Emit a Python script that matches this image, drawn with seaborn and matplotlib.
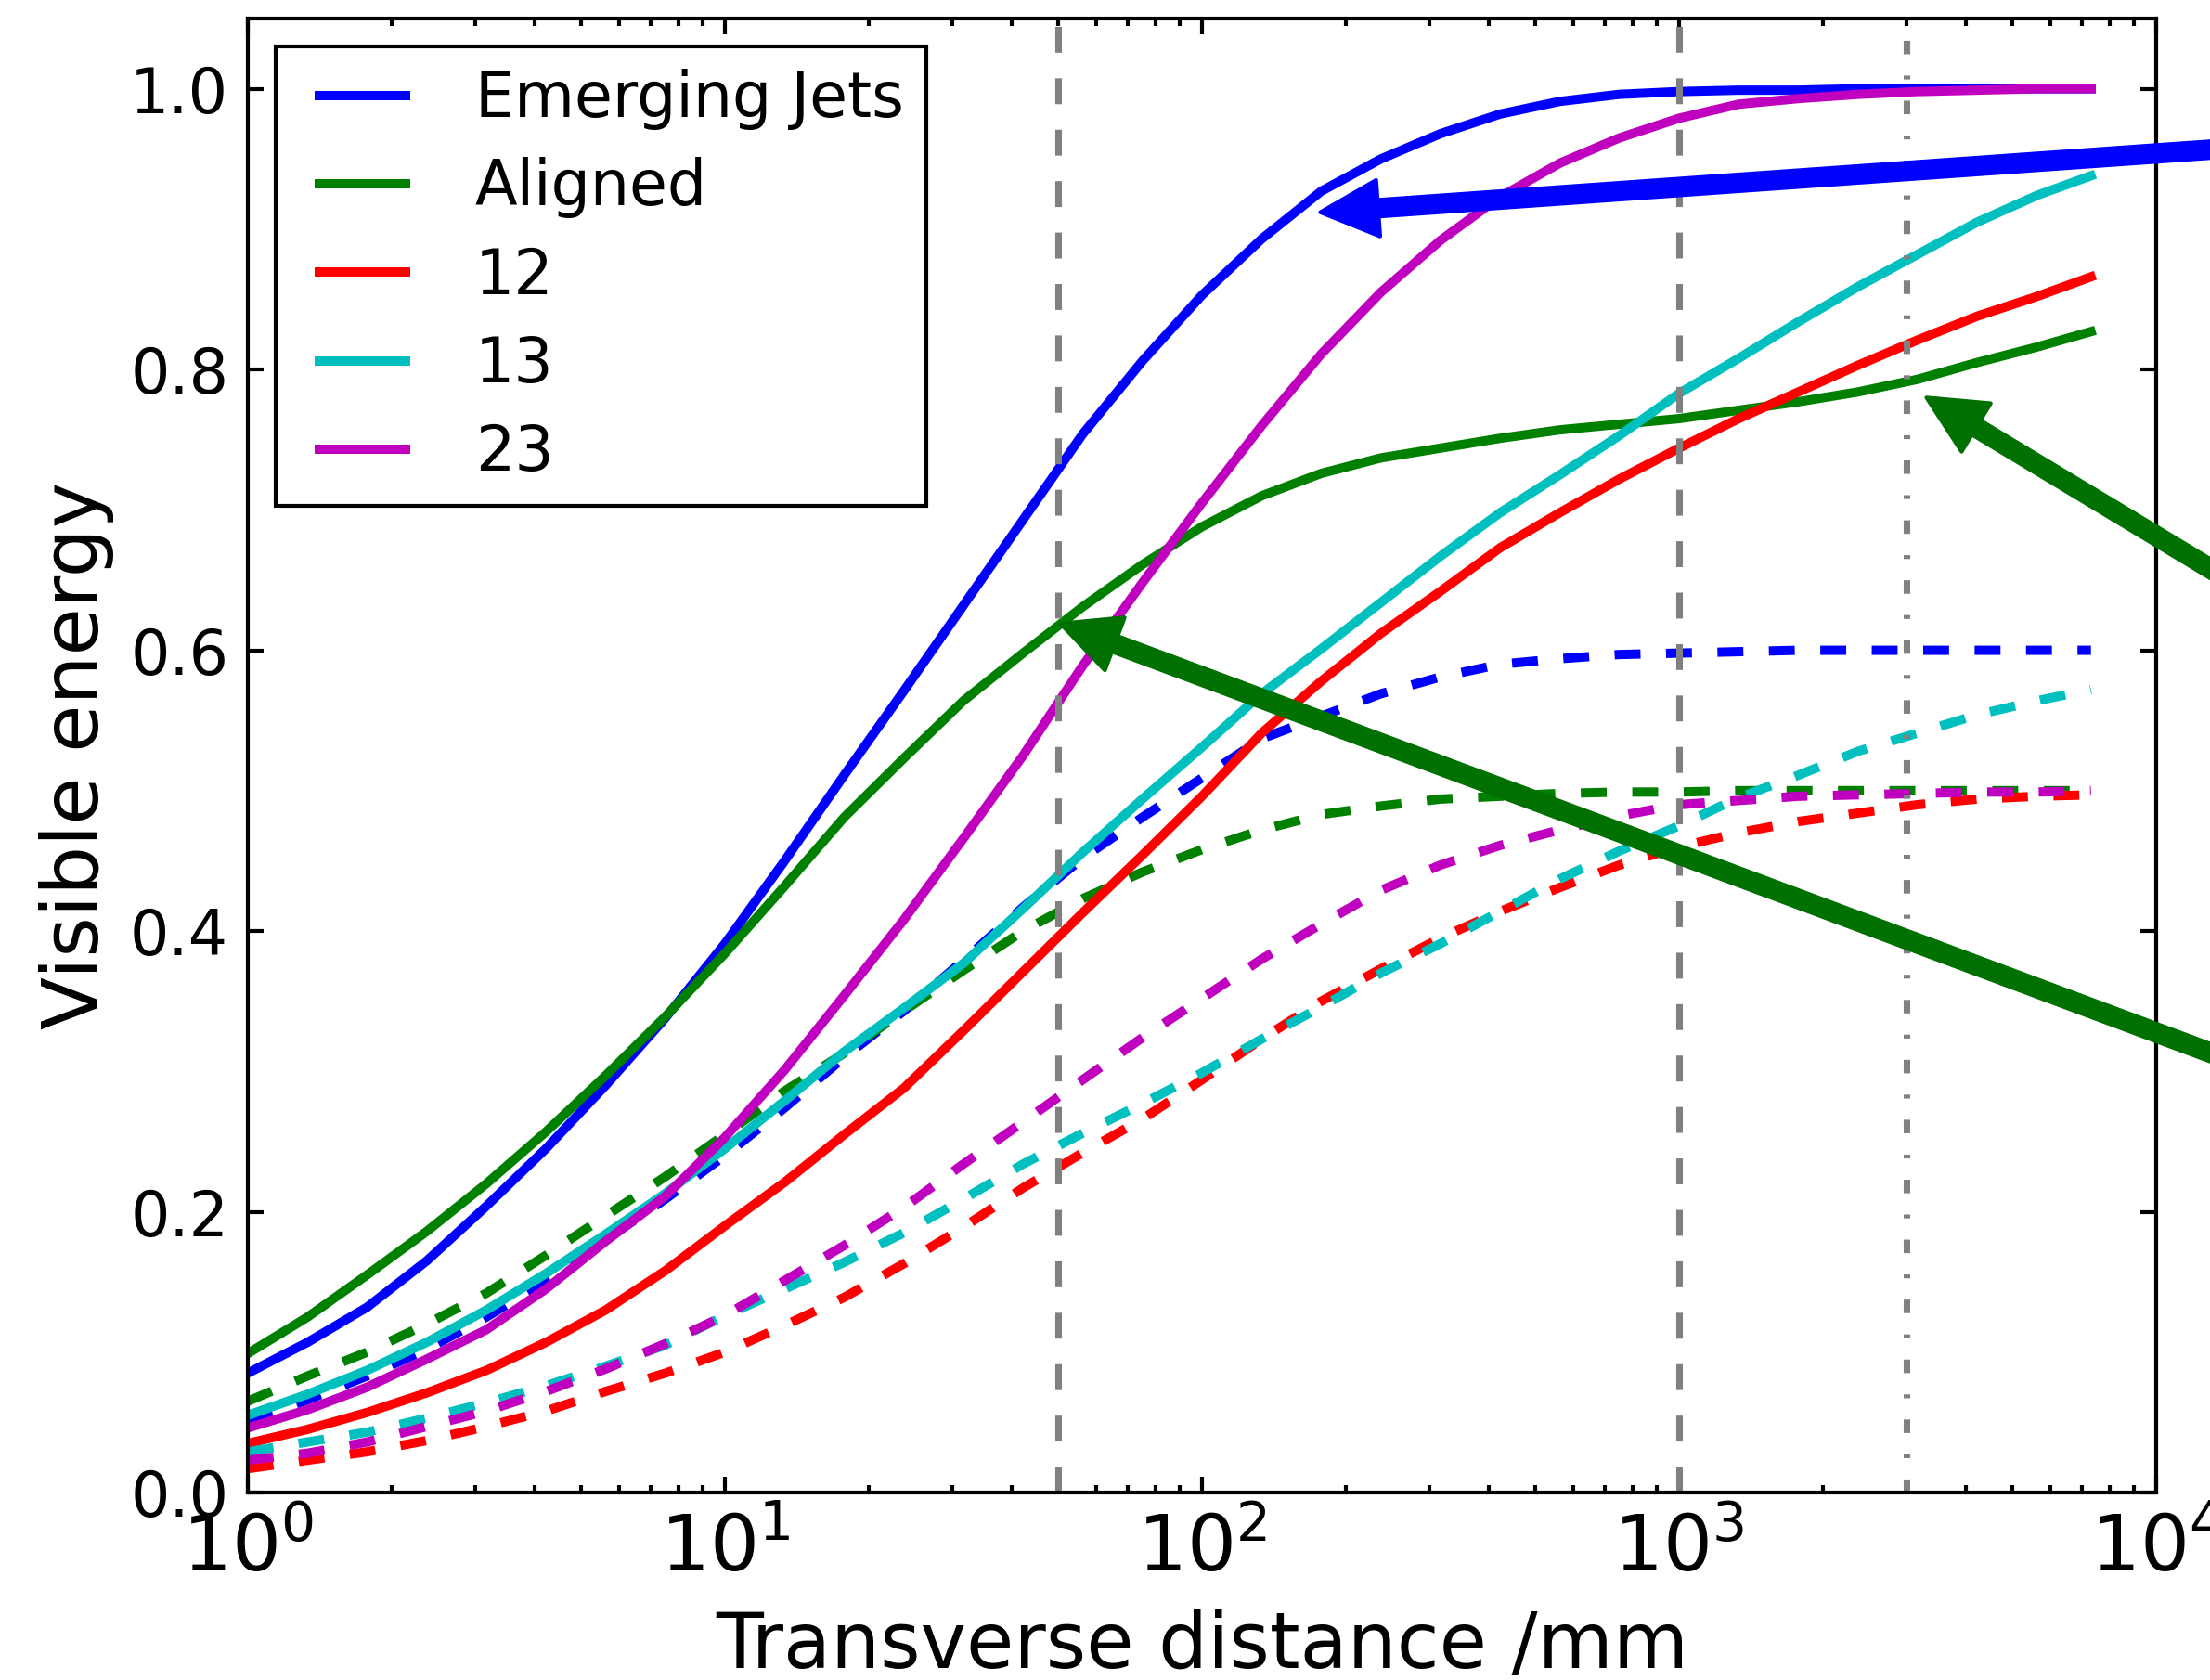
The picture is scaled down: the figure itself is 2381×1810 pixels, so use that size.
import numpy as np
import pandas as pd
import matplotlib
matplotlib.use("Agg")
import matplotlib.pyplot as plt
import seaborn as sns
from matplotlib.legend_handler import HandlerLine2D
from matplotlib.lines import Line2D

# transverse distance in mm (log spaced samples, 8 per decade)
dist = [1, 1.334, 1.778, 2.371, 3.162, 4.217, 5.623, 7.499,
        10, 13.34, 17.78, 23.71, 31.62, 42.17, 56.23, 74.99,
        100, 133.4, 177.8, 237.1, 316.2, 421.7, 562.3, 749.9,
        1000, 1334, 1778, 2371, 3162, 4217, 5623, 7300]

# solid curves
emerging = [0.085, 0.107, 0.132, 0.165, 0.204, 0.245, 0.290, 0.338,
            0.391, 0.450, 0.511, 0.571, 0.632, 0.693, 0.754, 0.806,
            0.853, 0.893, 0.927, 0.950, 0.968, 0.982, 0.991, 0.996,
            0.998, 0.999, 0.999, 1.000, 1.000, 1.000, 1.000, 1.000]
aligned = [0.099, 0.125, 0.155, 0.186, 0.220, 0.257, 0.297, 0.339,
           0.384, 0.432, 0.481, 0.523, 0.564, 0.598, 0.631, 0.661,
           0.688, 0.710, 0.726, 0.737, 0.744, 0.751, 0.757, 0.761,
           0.765, 0.771, 0.777, 0.784, 0.793, 0.805, 0.816, 0.827]
s12 = [0.035, 0.045, 0.057, 0.071, 0.087, 0.107, 0.130, 0.158,
       0.190, 0.221, 0.255, 0.288, 0.329, 0.371, 0.413, 0.454,
       0.496, 0.541, 0.578, 0.612, 0.642, 0.673, 0.698, 0.722,
       0.744, 0.765, 0.784, 0.803, 0.821, 0.838, 0.852, 0.866]
s13 = [0.055, 0.070, 0.087, 0.107, 0.130, 0.156, 0.184, 0.213,
       0.245, 0.279, 0.314, 0.345, 0.377, 0.416, 0.456, 0.494,
       0.531, 0.569, 0.601, 0.634, 0.667, 0.698, 0.725, 0.753,
       0.783, 0.808, 0.834, 0.859, 0.882, 0.905, 0.924, 0.938]
s23 = [0.046, 0.059, 0.075, 0.095, 0.116, 0.145, 0.179, 0.211,
       0.253, 0.301, 0.354, 0.408, 0.466, 0.525, 0.589, 0.648,
       0.705, 0.760, 0.811, 0.855, 0.892, 0.923, 0.947, 0.965,
       0.979, 0.989, 0.993, 0.996, 0.998, 0.999, 1.000, 1.000]

# dashed curves
emerging_d = [0.051, 0.066, 0.083, 0.102, 0.125, 0.151, 0.180, 0.209,
              0.240, 0.274, 0.310, 0.343, 0.379, 0.417, 0.452, 0.481,
              0.509, 0.537, 0.553, 0.569, 0.581, 0.590, 0.594, 0.597,
              0.598, 0.599, 0.600, 0.600, 0.600, 0.600, 0.600, 0.600]
aligned_d = [0.065, 0.083, 0.100, 0.120, 0.142, 0.169, 0.197, 0.225,
             0.255, 0.286, 0.313, 0.343, 0.372, 0.400, 0.423, 0.442,
             0.458, 0.472, 0.483, 0.489, 0.494, 0.496, 0.498, 0.499,
             0.499, 0.500, 0.500, 0.500, 0.500, 0.500, 0.500, 0.500]
s12_d = [0.017, 0.023, 0.029, 0.037, 0.047, 0.058, 0.072, 0.085,
         0.100, 0.119, 0.139, 0.163, 0.189, 0.217, 0.242, 0.266,
         0.294, 0.323, 0.350, 0.373, 0.395, 0.414, 0.431, 0.447,
         0.460, 0.470, 0.478, 0.484, 0.490, 0.494, 0.496, 0.497]
s13_d = [0.029, 0.036, 0.043, 0.053, 0.064, 0.076, 0.090, 0.105,
         0.126, 0.145, 0.164, 0.185, 0.209, 0.234, 0.256, 0.277,
         0.299, 0.323, 0.346, 0.370, 0.391, 0.414, 0.437, 0.457,
         0.475, 0.495, 0.511, 0.528, 0.541, 0.554, 0.564, 0.572]
s23_d = [0.023, 0.028, 0.036, 0.047, 0.058, 0.072, 0.088, 0.106,
         0.126, 0.151, 0.176, 0.203, 0.234, 0.264, 0.294, 0.324,
         0.352, 0.380, 0.405, 0.429, 0.447, 0.461, 0.472, 0.482,
         0.490, 0.493, 0.496, 0.497, 0.498, 0.499, 0.499, 0.500]

labels = ["Emerging Jets", "Aligned", "12", "13", "23"]
colors = ["b", "g", "r", "c", "m"]
solid = [emerging, aligned, s12, s13, s23]
dashed = [emerging_d, aligned_d, s12_d, s13_d, s23_d]

vlines = [50, 1000, 3000]


class ShiftedLine(HandlerLine2D):
    # legend line drawn a bit right of the box start, like old matplotlib
    def create_artists(self, legend, orig_handle, xdescent, ydescent, width,
                       height, fontsize, trans):
        shift = 0.34 * fontsize
        return super().create_artists(legend, orig_handle, xdescent - shift,
                                      ydescent, width - shift, height,
                                      fontsize, trans)


plt.rcParams['font.family'] = ['DejaVu Sans']
plt.rcParams['lines.scale_dashes'] = False
plt.rcParams['lines.dashed_pattern'] = [6.7, 6.6]
plt.rcParams['lines.dashdot_pattern'] = [3.5, 5.5, 1.0, 5.5]

fig = plt.figure(figsize=(2381 / 300, 1810 / 300), dpi=300)
ax = fig.add_axes([267 / 2381, 1 - 1608 / 1810, (2323 - 267) / 2381, (1608 - 20) / 1810])

handles = []
for lab, c, ys, yd in zip(labels, colors, solid, dashed):
    df = pd.DataFrame({"dist": dist, "solid": ys, "dashed": yd})
    sns.lineplot(data=df, x="dist", y="solid", color=c, lw=2.4, ax=ax, label=lab)
    handles.append(ax.lines[-1])
    sns.lineplot(data=df, x="dist", y="dashed", color=c, lw=2.4, ax=ax, linestyle="--")

ax.axvline(vlines[0], color="gray", ls="--", lw=1.7)
ax.axvline(vlines[1], color="gray", ls="--", lw=1.7)
ax.axvline(vlines[2], color="gray", ls="-.", lw=1.7)

ax.set_xscale("log")
ax.set_xlim(1, 1e4)
ax.set_ylim(0, 1.05)
ax.set_yticks([0.0, 0.2, 0.4, 0.6, 0.8, 1.0])

for sp in ax.spines.values():
    sp.set_linewidth(1.0)
ax.tick_params(which="both", direction="in", top=True, right=True, width=1.0)
ax.tick_params(which="major", length=4)
ax.tick_params(which="minor", length=2)
ax.tick_params(axis="y", labelsize=16, pad=5)
ax.tick_params(axis="x", labelsize=20, pad=5)

ax.set_xlabel("Transverse distance /mm", fontsize=20, labelpad=5.5)
ax.set_ylabel("Visible energy", fontsize=20)

# arrows pointing in from the right margin
arrow_b = dict(color="#0000ff", width=4.3, headwidth=14.6, headlength=15, shrink=0)
arrow_g = dict(color="#007000", width=4.3, headwidth=14.6, headlength=15, shrink=0)
ax.annotate("", xy=(177, 0.912), xytext=(62800, 0.973), arrowprops=arrow_b,
            annotation_clip=False)
ax.annotate("", xy=(3300, 0.780), xytext=(62800, 0.518), arrowprops=arrow_g,
            annotation_clip=False)
ax.annotate("", xy=(50.5, 0.619), xytext=(62800, 0.2265), arrowprops=arrow_g,
            annotation_clip=False)

leg = ax.legend(handles=handles, labels=labels, loc="upper left", fontsize=16,
                handlelength=1.74, handletextpad=1.12, labelspacing=0.44,
                borderpad=0.36, borderaxespad=0.45, fancybox=False,
                framealpha=1, edgecolor="k",
                handler_map={Line2D: ShiftedLine()})
leg.get_frame().set_linewidth(1.0)

fig.savefig("out.png", dpi=300)
